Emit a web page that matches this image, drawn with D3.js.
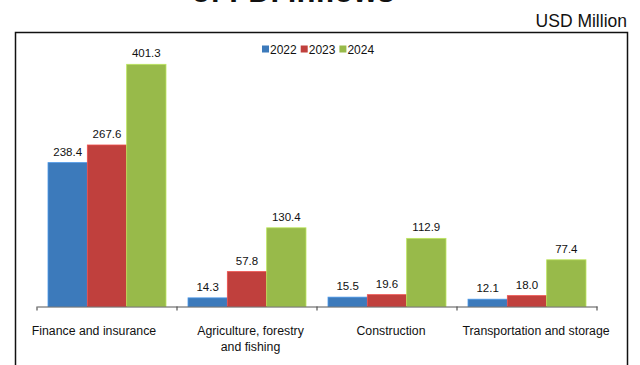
<!DOCTYPE html>
<html>
<head>
<meta charset="utf-8">
<script src="https://cdn.jsdelivr.net/npm/d3@7"></script>
<style>
  html, body { margin: 0; padding: 0; background: #fff; }
  svg { display: block; font-family: "Liberation Sans", Arial, Helvetica, sans-serif; }
</style>
</head>
<body>
<svg id="chart" width="640" height="365"></svg>
<script>
// FDI inflows by sector, USD million
const categories = [
  ["Finance and insurance"],
  ["Agriculture, forestry", "and fishing"],
  ["Construction"],
  ["Transportation and storage"]
];
const years = ["2022", "2023", "2024"];
const values2022 = [238.4, 14.3, 15.5, 12.1];
const values2023 = [267.6, 57.8, 19.6, 18.0];
const values2024 = [401.3, 130.4, 112.9, 77.4];
const colors = ["#3c7abb", "#c0403d", "#98ba4a"];

const series = [values2022, values2023, values2024];
const keys = categories.map(c => c.join(" "));

const svg = d3.select("#chart");

// Title (runs off the top edge)
svg.append("text")
  .attr("x", 293).attr("y", 2)
  .attr("text-anchor", "middle")
  .attr("font-size", 31).attr("font-weight", "bold")
  .attr("fill", "#111")
  .text("of FDI inflows");

// Unit note
svg.append("text")
  .attr("x", 627).attr("y", 26.5)
  .attr("text-anchor", "end")
  .attr("font-size", 17.5)
  .attr("fill", "#111")
  .text("USD Million");

// Frame around the chart (open at the bottom edge of the view)
svg.append("path")
  .attr("d", "M15.5,370 V32.5 H627.5 V370")
  .attr("fill", "none")
  .attr("stroke", "#111")
  .attr("stroke-width", 1.5);

const baseY = 306.5;
const x = d3.scaleBand().domain(keys).range([37, 597]).paddingInner(0).paddingOuter(0);
const xs = d3.scaleBand().domain(years).range([0, x.bandwidth()]).paddingInner(0).paddingOuter(0.28);
const y = d3.scaleLinear().domain([0, 425]).range([baseY, 50]);

// Bars
const groups = svg.append("g").selectAll("g")
  .data(keys)
  .join("g")
  .attr("transform", d => `translate(${x(d)},0)`);

groups.each(function(k, ci) {
  const g = d3.select(this);
  years.forEach((yr, si) => {
    const v = series[si][ci];
    g.append("rect")
      .attr("x", xs(yr))
      .attr("y", y(v))
      .attr("width", xs.bandwidth())
      .attr("height", baseY - y(v))
      .attr("fill", colors[si])
      .attr("stroke", d3.color(colors[si]).brighter(0.6))
      .attr("stroke-width", 0.8);
    g.append("text")
      .attr("x", xs(yr) + xs.bandwidth() / 2)
      .attr("y", y(v) - 7)
      .attr("text-anchor", "middle")
      .attr("font-size", 11.5)
      .attr("fill", "#111")
      .text(v.toFixed(1));
  });
});

// Category axis
const axis = svg.append("g")
  .attr("transform", `translate(0,${baseY})`)
  .call(d3.axisBottom(x).tickValues([]).tickSizeOuter(0));
axis.select(".domain").attr("stroke", "#555").attr("stroke-width", 1.2);

const edges = keys.map(k => x(k)).concat([x.range()[1]]);
svg.append("g").selectAll("line")
  .data(edges)
  .join("line")
  .attr("x1", d => d).attr("x2", d => d)
  .attr("y1", baseY).attr("y2", baseY + 4)
  .attr("stroke", "#555").attr("stroke-width", 1.2);

// Category labels, nudged the way the long outer labels are fitted
const labelShift = [-13, 3.5, 4, 9];
svg.append("g").selectAll("text")
  .data(categories)
  .join("text")
  .attr("x", (d, i) => x(keys[i]) + x.bandwidth() / 2 + labelShift[i])
  .attr("y", 334.5)
  .attr("text-anchor", "middle")
  .attr("font-size", 12.3)
  .attr("fill", "#111")
  .each(function(lines) {
    d3.select(this).selectAll("tspan")
      .data(lines)
      .join("tspan")
      .attr("x", d3.select(this).attr("x"))
      .attr("dy", (d, i) => i === 0 ? 0 : 16)
      .text(d => d);
  });

// Legend
const legend = svg.append("g").attr("transform", "translate(262,0)");
let lx = 0;
years.forEach((yr, i) => {
  legend.append("rect")
    .attr("x", lx).attr("y", 45.5)
    .attr("width", 7).attr("height", 7)
    .attr("fill", colors[i]);
  const t = legend.append("text")
    .attr("x", lx + 8).attr("y", 53.5)
    .attr("font-size", 12)
    .attr("fill", "#111")
    .text(yr);
  lx += 8 + t.node().getComputedTextLength() + 4;
});
</script>
</body>
</html>
